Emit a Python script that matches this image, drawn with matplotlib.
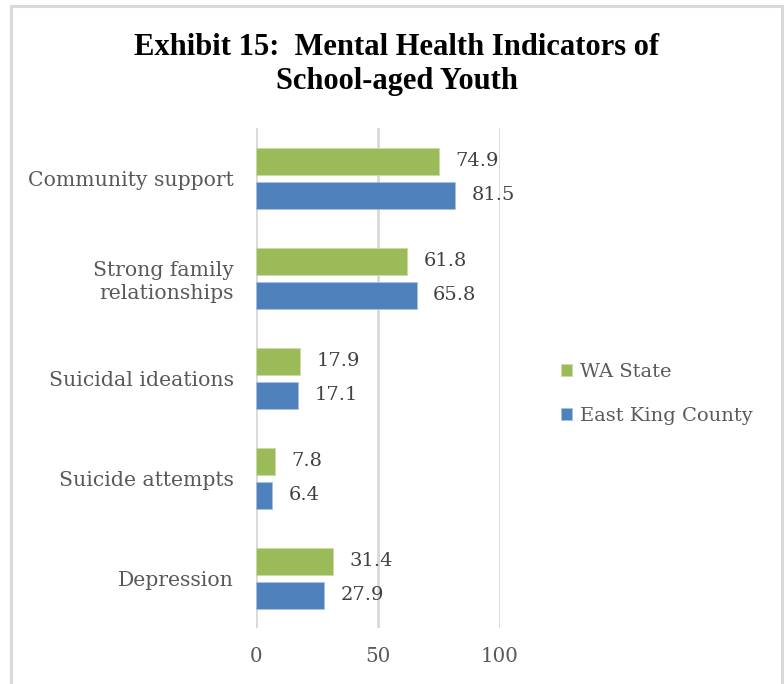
import matplotlib.pyplot as plt
import numpy as np
from matplotlib.patches import Rectangle

categories = ["Community support", "Strong family\nrelationships", "Suicidal ideations",
              "Suicide attempts", "Depression"]
wa_state = [74.9, 61.8, 17.9, 7.8, 31.4]
east_king = [81.5, 65.8, 17.1, 6.4, 27.9]
series_names = ["WA State", "East King County"]
x_ticks = [0, 50, 100]

GREEN = "#9BBB59"
BLUE = "#4F81BD"
LABEL = "#595959"
VALUE = "#404040"
SERIF = ["DejaVu Serif"]

fig = plt.figure(figsize=(7.84, 6.84), dpi=100)

# chart frame
fig.patches.append(Rectangle((10.5 / 784, -0.01), (771) / 784, 1 - 5.5 / 684 + 0.01,
                             transform=fig.transFigure, fill=False,
                             edgecolor="#d9d9d9", linewidth=2.2))

ax = fig.add_axes([256 / 784, 1 - 628 / 684, 244 / 784, 500 / 684])

y = np.arange(len(categories))
h = 0.27
gap = 0.07
ax.barh(y - (h + gap) / 2, wa_state, height=h, color=GREEN, edgecolor="#c9dba8",
        linewidth=0.6, label=series_names[0], zorder=3)
ax.barh(y + (h + gap) / 2, east_king, height=h, color=BLUE, edgecolor="#a9c0dd",
        linewidth=0.6, label=series_names[1], zorder=3)

for yi, v in zip(y - (h + gap) / 2, wa_state):
    ax.annotate(f"{v}", (v, yi), xytext=(12, 0), textcoords="offset points",
                va="center", ha="left", fontsize=14, color=VALUE, family=SERIF)
for yi, v in zip(y + (h + gap) / 2, east_king):
    ax.annotate(f"{v}", (v, yi), xytext=(12, 0), textcoords="offset points",
                va="center", ha="left", fontsize=14, color=VALUE, family=SERIF)

ax.set_xlim(0, 100)
ax.set_ylim(len(categories) - 0.5, -0.5)
ax.set_xticks(x_ticks)
ax.set_xticklabels([str(t) for t in x_ticks], fontsize=14.3, color=LABEL, family=SERIF)
ax.set_yticks(y)
ax.set_yticklabels(categories, fontsize=14.7, color=LABEL, family=SERIF,
                   linespacing=1.25, ha="right")
ax.tick_params(axis="both", length=0)
ax.tick_params(axis="x", pad=14)
ax.tick_params(axis="y", pad=16)
for s in ax.spines.values():
    s.set_visible(False)
ax.grid(axis="x", color="#d9d9d9", linewidth=2, zorder=0)
ax.set_axisbelow(True)

fig.text(397 / 784, 1 - 47.5 / 684, "Exhibit 15:  Mental Health Indicators of",
         ha="center", va="center", fontsize=22, fontweight="bold",
         family=["Liberation Serif"], color="#000000")
fig.text(397 / 784, 1 - 81 / 684, "School-aged Youth",
         ha="center", va="center", fontsize=22, fontweight="bold",
         family=["Liberation Serif"], color="#000000")

handles, labels = ax.get_legend_handles_labels()
leg = fig.legend(handles, labels, loc="center left",
                 bbox_to_anchor=(543 / 784, 1 - 394 / 684), frameon=False,
                 prop={"family": SERIF, "size": 14}, labelcolor=LABEL,
                 handlelength=0.6, handleheight=0.6, handletextpad=0.4,
                 labelspacing=1.35)

fig.savefig("out.png", dpi=100)
